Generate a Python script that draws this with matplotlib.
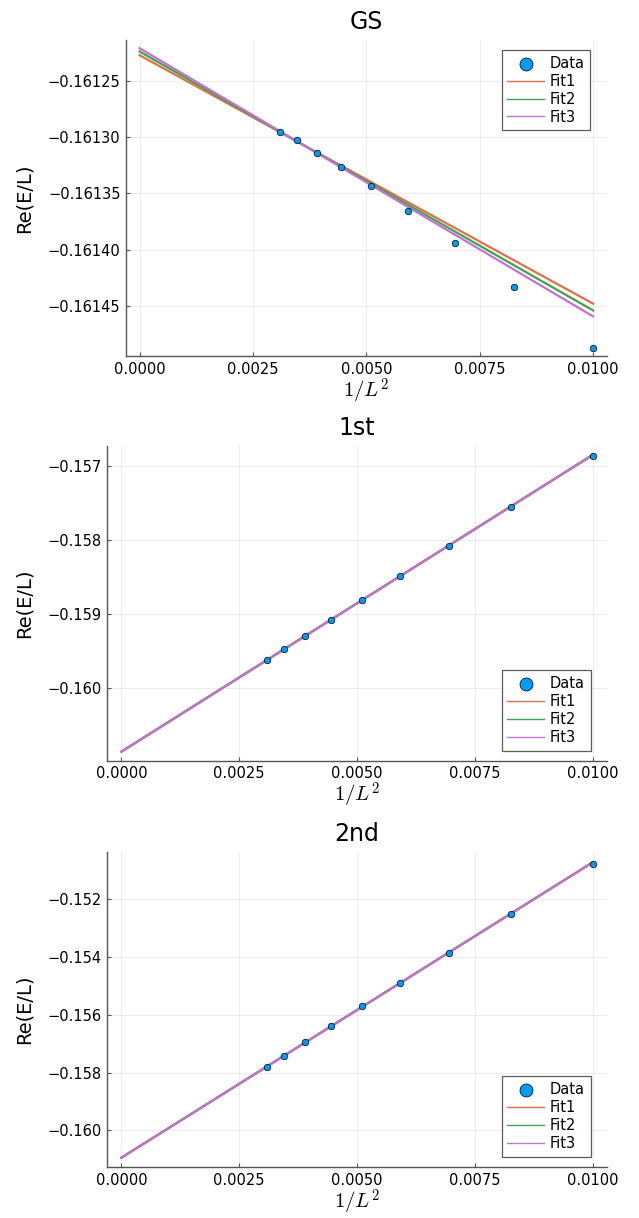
import numpy as np
import matplotlib
matplotlib.use("Agg")
from matplotlib import pyplot as plt
from matplotlib.ticker import FuncFormatter

plt.rcParams['font.family'] = ['DejaVu Sans']
plt.rcParams['mathtext.fontset'] = 'cm'

# system sizes L = 10..18 -> x = 1/L^2
L = np.array([18, 17, 16, 15, 14, 13, 12, 11, 10])
x = 1.0 / L**2

# Re(E/L)
gs_data = [-0.1612956, -0.1613027, -0.1613137, -0.1613262, -0.1613430,
           -0.1613653, -0.1613943, -0.1614331, -0.1614867]
first_data = [-0.159626, -0.159477, -0.159293, -0.159081, -0.158815,
              -0.158491, -0.158081, -0.157554, -0.156869]
second_data = [-0.157792, -0.157411, -0.156951, -0.156391, -0.155709,
               -0.154890, -0.153851, -0.152519, -0.150777]

# fit curves: value at x=0 and at x=0.01
fit_x = [0.0, 0.01]
gs_fits = {'Fit1': [-0.1612275, -0.1614476],
           'Fit2': [-0.1612242, -0.1614536],
           'Fit3': [-0.1612213, -0.1614589]}
first_fits = {'Fit1': [-0.160858, -0.156850],
              'Fit2': [-0.160860, -0.156852],
              'Fit3': [-0.160861, -0.156853]}
second_fits = {'Fit1': [-0.160946, -0.150720],
               'Fit2': [-0.160948, -0.150722],
               'Fit3': [-0.160949, -0.150724]}

titles = ['GS', '1st', '2nd']
datas = [gs_data, first_data, second_data]
fits = [gs_fits, first_fits, second_fits]
yticks = [[-0.16125, -0.16130, -0.16135, -0.16140, -0.16145],
          [-0.157, -0.158, -0.159, -0.160],
          [-0.152, -0.154, -0.156, -0.158, -0.160]]
ylims = [(-0.161494, -0.161214), (-0.160982, -0.156726), (-0.161281, -0.150351)]
yfmt = ['%.5f', '%.3f', '%.3f']
xticks = [0.0, 0.0025, 0.005, 0.0075, 0.01]

fit_colors = {'Fit1': '#E36F47', 'Fit2': '#3EA44E', 'Fit3': '#C371D2'}

W, H = 639, 1218
boxes = [[126, 40, 606.7, 356], [107.3, 445.7, 606.7, 760.7], [107.3, 851.7, 606.7, 1167.3]]
ylab_x = 34
# legend corner in pixels (right edge, top or bottom edge)
leg_pos = [('upper right', 590.5, 50), ('lower right', 590.5, 750.7), ('lower right', 590.5, 1156.7)]

fig = plt.figure(figsize=(W/100, H/100), dpi=100)

for i in range(3):
    l, t, r, b = boxes[i]
    ax = fig.add_axes([l/W, 1-b/H, (r-l)/W, (b-t)/H])
    ax.scatter(x, datas[i], s=22, color='#009AFA', edgecolors='black',
               linewidths=0.5, zorder=5, label='Data')
    for name, vals in fits[i].items():
        ax.plot(fit_x, vals, color=fit_colors[name], lw=1.6, label=name, zorder=3)
    ax.set_xlim(-0.0003, 0.0103)
    ax.set_ylim(*ylims[i])
    ax.set_xticks(xticks)
    ax.set_yticks(yticks[i])
    ax.xaxis.set_major_formatter(FuncFormatter(lambda v, p: '%.4f' % v))
    f = yfmt[i]
    ax.yaxis.set_major_formatter(FuncFormatter(lambda v, p, f=f: (f % v).replace('-', '\u2212')))
    ax.grid(True, color='black', alpha=0.07, lw=0.8)
    for s in ['top', 'right']:
        ax.spines[s].set_visible(False)
    for s in ['left', 'bottom']:
        ax.spines[s].set_color('#555555')
        ax.spines[s].set_linewidth(1.0)
    ax.tick_params(direction='in', length=3, color='#555555', labelsize=10.5, pad=4)
    ax.set_title(titles[i], fontsize=17, pad=8)
    ax.set_xlabel('$1/L^2$', fontsize=15, labelpad=0)
    ax.set_ylabel('Re(E/L)', fontsize=14)
    ax.yaxis.set_label_coords((ylab_x-l)/(r-l), 0.5)
    loc, px, py = leg_pos[i]
    leg = ax.legend(loc=loc, bbox_to_anchor=((px-l)/(r-l), (b-py)/(b-t)),
                    fontsize=10.5, frameon=True, fancybox=False,
                    borderpad=0.4, labelspacing=0.2, handlelength=2.5,
                    handletextpad=0.4, borderaxespad=0, markerscale=2.0)
    leg.get_frame().set_edgecolor('#333333')
    leg.get_frame().set_linewidth(0.9)
    for h in leg.get_lines():
        h.set_linewidth(1.0)

fig.savefig('out.png', dpi=100)
